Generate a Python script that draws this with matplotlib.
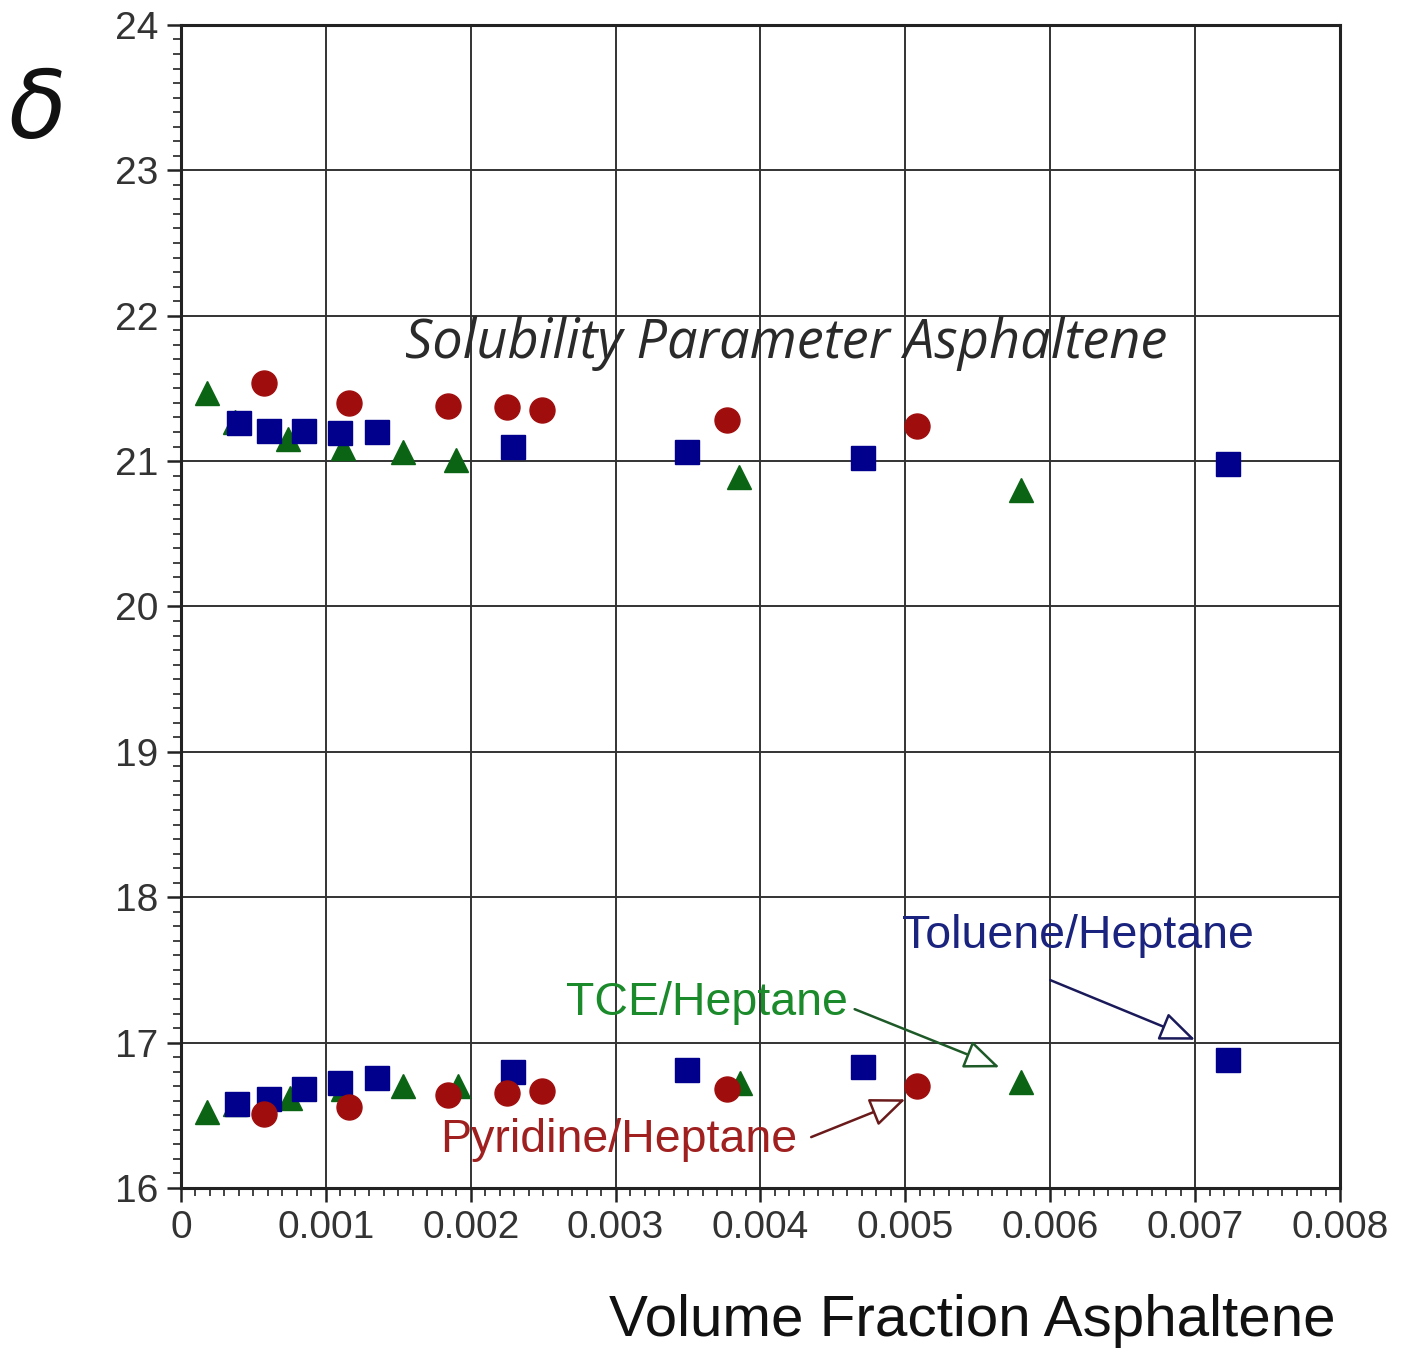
import numpy as np
import matplotlib
matplotlib.use("Agg")
import matplotlib.pyplot as plt
from matplotlib.ticker import MultipleLocator, FuncFormatter

# data (upper and lower branches)
tce_x_up = [0.00018, 0.00037, 0.00074, 0.00112, 0.00153, 0.00190, 0.00385, 0.00580]
tce_y_up = [21.47, 21.27, 21.15, 21.09, 21.06, 21.01, 20.89, 20.80]
tce_x_lo = [0.00018, 0.00037, 0.00075, 0.00112, 0.00153, 0.00191, 0.00386, 0.00580]
tce_y_lo = [16.52, 16.58, 16.62, 16.68, 16.70, 16.70, 16.72, 16.73]

tol_x_up = [0.00040, 0.00061, 0.00085, 0.00110, 0.00135, 0.00229, 0.00349, 0.00471, 0.00723]
tol_y_up = [21.26, 21.21, 21.21, 21.19, 21.20, 21.10, 21.06, 21.02, 20.98]
tol_x_lo = [0.00039, 0.00061, 0.00085, 0.00110, 0.00135, 0.00229, 0.00349, 0.00471, 0.00723]
tol_y_lo = [16.58, 16.61, 16.68, 16.72, 16.76, 16.80, 16.81, 16.83, 16.88]

pyr_x_up = [0.00057, 0.00116, 0.00184, 0.00225, 0.00249, 0.00377, 0.00508]
pyr_y_up = [21.54, 21.40, 21.38, 21.37, 21.35, 21.28, 21.24]
pyr_x_lo = [0.00057, 0.00116, 0.00184, 0.00225, 0.00249, 0.00377, 0.00508]
pyr_y_lo = [16.51, 16.56, 16.64, 16.65, 16.67, 16.68, 16.70]

GREEN = "#0a6414"
BLUE = "#00008c"
RED = "#a00d0d"

fig = plt.figure(figsize=(14.07, 13.56), dpi=100)
ax = fig.add_axes([0.1286, 0.1239, 0.8238, 0.8577])

ax.set_xlim(0, 0.008)
ax.set_ylim(16, 24)
ax.xaxis.set_major_locator(MultipleLocator(0.001))
ax.xaxis.set_minor_locator(MultipleLocator(0.0001))
ax.yaxis.set_major_locator(MultipleLocator(1))
ax.yaxis.set_minor_locator(MultipleLocator(0.1))
ax.xaxis.set_major_formatter(FuncFormatter(lambda v, p: "0" if abs(v) < 1e-12 else f"{v:.3f}"))
ax.yaxis.set_major_formatter(FuncFormatter(lambda v, p: f"{v:.0f}"))

ax.grid(True, which="major", color="#333333", linewidth=1.4)
ax.set_axisbelow(True)
for s in ax.spines.values():
    s.set_linewidth(2.2)
    s.set_color("#222222")
ax.tick_params(which="major", direction="out", length=10, width=1.8, colors="#222222",
               labelsize=28, labelcolor="#333333", pad=6)
ax.tick_params(which="minor", direction="out", length=6, width=1.2, colors="#222222")
for lab in ax.get_xticklabels() + ax.get_yticklabels():
    lab.set_fontfamily("Liberation Sans")

ax.plot(tce_x_up + tce_x_lo, tce_y_up + tce_y_lo, linestyle="none", marker="^",
        markersize=17, color=GREEN, zorder=3)
ax.plot(tol_x_up + tol_x_lo, tol_y_up + tol_y_lo, linestyle="none", marker="s",
        markersize=17, color=BLUE, zorder=4)
ax.plot(pyr_x_up + pyr_x_lo, pyr_y_up + pyr_y_lo, linestyle="none", marker="o",
        markersize=18, color=RED, zorder=5)

ax.text(0.00418, 21.81, "Solubility Parameter Asphaltene", fontsize=39, style="italic",
        family="Open Sans", color="#2a2a2a", ha="center", va="center")

ax.text(0.00498, 17.73, "Toluene/Heptane", fontsize=33.5, family="Liberation Sans",
        color="#1a237e", ha="left", va="center")
ax.text(0.00266, 17.27, "TCE/Heptane", fontsize=33.5, family="Liberation Sans",
        color="#1b8a2a", ha="left", va="center")
ax.text(0.00179, 16.33, "Pyridine/Heptane", fontsize=33.5, family="Liberation Sans",
        color="#a02020", ha="left", va="center")

arrow_kw = dict(arrowstyle="-|>,head_length=1.1,head_width=0.45", facecolor="white",
                lw=1.8, mutation_scale=20, shrinkA=0, shrinkB=0)
ax.annotate("", xy=(0.00700, 17.02), xytext=(0.00600, 17.43),
            arrowprops=dict(edgecolor="#1a1a5a", **arrow_kw), zorder=6)
ax.annotate("", xy=(0.00565, 16.83), xytext=(0.00465, 17.23),
            arrowprops=dict(edgecolor="#1e5a28", **arrow_kw), zorder=6)
ax.annotate("", xy=(0.00500, 16.61), xytext=(0.00435, 16.35),
            arrowprops=dict(edgecolor="#6a1a1a", **arrow_kw), zorder=6)

fig.text(0.006, 0.918, "\u03b4", fontsize=68, style="italic", family="DejaVu Sans",
         color="#111111", ha="left", va="center")
fig.text(0.949, 0.026, "Volume Fraction Asphaltene", fontsize=42, family="Liberation Sans",
         color="#111111", ha="right", va="center")

fig.savefig("out.png", dpi=100)
